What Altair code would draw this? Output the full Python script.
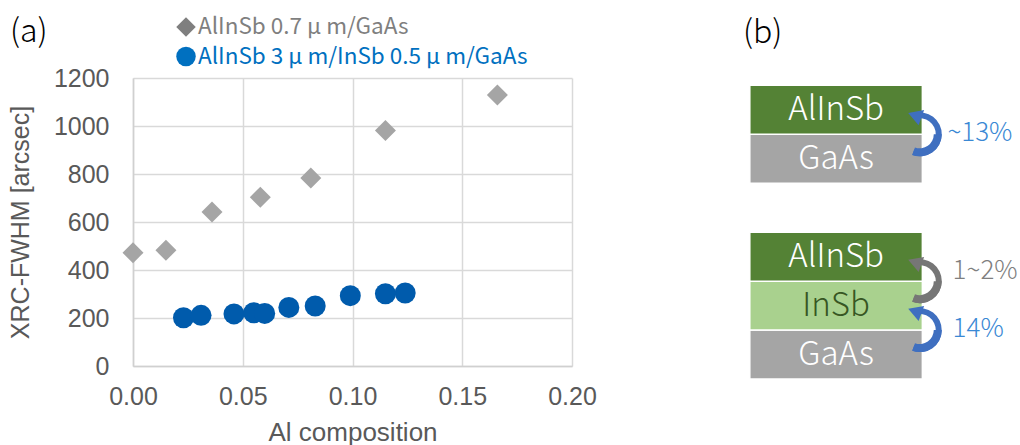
import math

import altair as alt
import pandas as pd

# ---------------- (a) XRC-FWHM versus Al composition ----------------
# AlInSb 0.7 um grown directly on GaAs
al_direct = [0.000, 0.015, 0.036, 0.058, 0.081, 0.115, 0.166]
fwhm_direct = [472, 482, 642, 703, 783, 981, 1129]

# AlInSb 3 um on an InSb 0.5 um buffer on GaAs
al_buffer = [0.023, 0.031, 0.046, 0.055, 0.060, 0.071, 0.083, 0.099, 0.115, 0.124]
fwhm_buffer = [201, 211, 217, 222, 219, 244, 250, 293, 301, 304]

x_ticks = [0.00, 0.05, 0.10, 0.15, 0.20]
y_ticks = [0, 200, 400, 600, 800, 1000, 1200]

legend_labels = ["AlInSb 0.7 μ m/GaAs", "AlInSb 3 μ m/InSb 0.5 μ m/GaAs"]
legend_shapes = ["diamond", "circle"]
legend_colors = ["#7F7F7F", "#0070C0"]

# ---------------- (b) layer stacks ----------------
stack_single = ["GaAs", "AlInSb"]            # bottom -> top
stack_buffered = ["GaAs", "InSb", "AlInSb"]  # bottom -> top
layer_fill = {"AlInSb": "#548235", "InSb": "#A9D18E", "GaAs": "#A5A5A5"}
layer_ink = {"AlInSb": "#FFFFFF", "InSb": "#375623", "GaAs": "#FFFFFF"}

# lattice mismatch across an interface: (stack, lower layer index, label, colour)
mismatch = [
    ("single", 0, "~13%", "#3A88D4"),
    ("buffered", 1, "1~2%", "#7F7F7F"),
    ("buffered", 0, "14%", "#3A88D4"),
]
arrow_colour = {"#3A88D4": "#3F6FC0", "#7F7F7F": "#767676"}

AXIS_FONT = "Liberation Sans"
JP_FONT = "Noto Sans CJK JP"

# ---- panel (a) ----
W_A, H_A = 439, 288

direct = pd.DataFrame({"al": al_direct, "fwhm": fwhm_direct})
buffered = pd.DataFrame({"al": al_buffer, "fwhm": fwhm_buffer})

x_enc = alt.X(
    "al:Q",
    scale=alt.Scale(domain=[0, 0.2], nice=False),
    axis=alt.Axis(
        values=x_ticks, format=".2f", title="Al composition", labelFlush=False,
        labelFontSize=25, titleFontSize=26, labelPadding=18, titlePadding=10,
    ),
)
y_enc = alt.Y(
    "fwhm:Q",
    scale=alt.Scale(domain=[0, 1200], nice=False),
    axis=alt.Axis(
        values=y_ticks, format="d", title="XRC-FWHM [arcsec]", labelFlush=False,
        labelFontSize=25, titleFontSize=25, labelPadding=24, titlePadding=20,
    ),
)

diamonds = alt.Chart(direct).mark_point(
    shape="diamond", filled=True, size=440, color="#A5A5A5", opacity=1
).encode(x=x_enc, y=y_enc)

circles = alt.Chart(buffered).mark_point(
    shape="circle", filled=True, size=440, color="#005BAC", opacity=1
).encode(x="al:Q", y="fwhm:Q")

legend_layers = []
for i, (label, shape, colour) in enumerate(zip(legend_labels, legend_shapes, legend_colors)):
    row = pd.DataFrame({"t": [label]})
    ypos = -51 + 29.5 * i
    legend_layers.append(
        alt.Chart(row).mark_point(
            shape=shape, filled=True, size=380, color=colour, opacity=1
        ).encode(x=alt.value(53), y=alt.value(ypos))
    )
    legend_layers.append(
        alt.Chart(row).mark_text(
            align="left", baseline="middle", font=JP_FONT, fontSize=22.5, color=colour,
        ).encode(text="t:N", x=alt.value(65), y=alt.value(ypos))
    )

tag_a = alt.Chart(pd.DataFrame({"t": ["(a)"]})).mark_text(
    align="left", baseline="middle", font=JP_FONT, fontSize=32, fontWeight=300, color="#000000"
).encode(text="t:N", x=alt.value(-123), y=alt.value(-46))

panel_a = alt.layer(diamonds, circles, *legend_layers, tag_a).properties(width=W_A, height=H_A)

# ---- panel (b) ----
LAYER_PX = 49          # pixel height of one layer
BOX_PX = 172.7         # pixel width of a box (one x unit)
x_dom = [-0.08, 1.56]
y_dom = [-1.0, 6.15]
W_B = round((x_dom[1] - x_dom[0]) * BOX_PX)
H_B = round((y_dom[1] - y_dom[0]) * LAYER_PX)

stack_base = {"buffered": 0, "single": len(stack_buffered) + 1}
stacks = {"single": stack_single, "buffered": stack_buffered}
label_gap = {"single": 0.145, "buffered": 0.175}

rows = []
for key, names in stacks.items():
    for i, name in enumerate(names):
        y0 = stack_base[key] + i
        rows.append({"name": name, "x0": 0.0, "x1": 1.0, "y0": y0, "y1": y0 + 1,
                     "ym": y0 + 0.5, "xm": 0.5,
                     "fill": layer_fill[name], "ink": layer_ink[name]})
layers = pd.DataFrame(rows)

arrows = []
for key, idx, label, colour in mismatch:
    boundary = stack_base[key] + idx + 1
    lift = 0.2 if colour == "#7F7F7F" else 0.03
    arrows.append({"cx": 0.985, "cy": boundary, "lx": 1 + label_gap[key], "ly": boundary + lift,
                   "label": label, "ink": colour, "stroke": arrow_colour[colour]})
arrows = pd.DataFrame(arrows)

xs = alt.Scale(domain=x_dom, nice=False, zero=False)
ys = alt.Scale(domain=y_dom, nice=False, zero=False)

boxes = alt.Chart(layers).mark_rect(stroke="#FFFFFF", strokeWidth=1.5).encode(
    x=alt.X("x0:Q", scale=xs, axis=None), x2="x1:Q",
    y=alt.Y("y0:Q", scale=ys, axis=None), y2="y1:Q",
    fill=alt.Fill("fill:N", scale=None),
)
box_text = alt.Chart(layers).mark_text(
    font=JP_FONT, fontSize=33, fontWeight=300, baseline="middle", align="center"
).encode(
    x=alt.X("xm:Q", scale=xs, axis=None), y=alt.Y("ym:Q", scale=ys, axis=None),
    text="name:N", color=alt.Color("ink:N", scale=None),
)

tau = 2 * math.pi
arc_body = alt.Chart(arrows).mark_arc(
    theta=tau - 0.3, theta2=tau + math.pi + 0.35, radius=22, radius2=16
).encode(
    x=alt.X("cx:Q", scale=xs, axis=None), y=alt.Y("cy:Q", scale=ys, axis=None),
    color=alt.Color("stroke:N", scale=None),
)
arc_tail = alt.Chart(arrows).mark_arc(
    theta=tau + math.pi / 2, theta2=tau + math.pi + 0.35, radius=22, radius2=14
).encode(
    x=alt.X("cx:Q", scale=xs, axis=None), y=alt.Y("cy:Q", scale=ys, axis=None),
    color=alt.Color("stroke:N", scale=None),
)
arc_head = alt.Chart(arrows).mark_point(
    shape="triangle-left", filled=True, size=260, angle=20, opacity=1,
    xOffset=-5, yOffset=-19,
).encode(
    x=alt.X("cx:Q", scale=xs, axis=None), y=alt.Y("cy:Q", scale=ys, axis=None),
    color=alt.Color("stroke:N", scale=None),
)
arc_label = alt.Chart(arrows).mark_text(
    font=JP_FONT, fontSize=26, fontWeight=300, align="left", baseline="middle"
).encode(
    x=alt.X("lx:Q", scale=xs, axis=None), y=alt.Y("ly:Q", scale=ys, axis=None),
    text="label:N", color=alt.Color("ink:N", scale=None),
)

tag_b = alt.Chart(pd.DataFrame({"t": ["(b)"], "x": [-0.04], "y": [7.06]})).mark_text(
    align="left", baseline="middle", font=JP_FONT, fontSize=32, fontWeight=300, color="#000000"
).encode(
    x=alt.X("x:Q", scale=xs, axis=None), y=alt.Y("y:Q", scale=ys, axis=None), text="t:N"
)

panel_b = alt.layer(boxes, box_text, arc_body, arc_tail, arc_head, arc_label, tag_b).properties(
    width=W_B, height=H_B
)

chart = (
    alt.hconcat(panel_a, panel_b, spacing=138)
    .properties(padding={"left": 7, "top": 15, "right": 0, "bottom": 0})
    .configure_view(stroke="transparent")
    .configure_axis(
        labelFont=AXIS_FONT, titleFont=AXIS_FONT,
        labelColor="#595959", titleColor="#595959",
        titleFontWeight="normal",
        gridColor="#D9D9D9", gridWidth=1.5,
        domainColor="#D0D0D0", domainWidth=1.5,
        ticks=False,
    )
)

chart.save("out.html", embed_options={"renderer": "svg", "actions": False})
